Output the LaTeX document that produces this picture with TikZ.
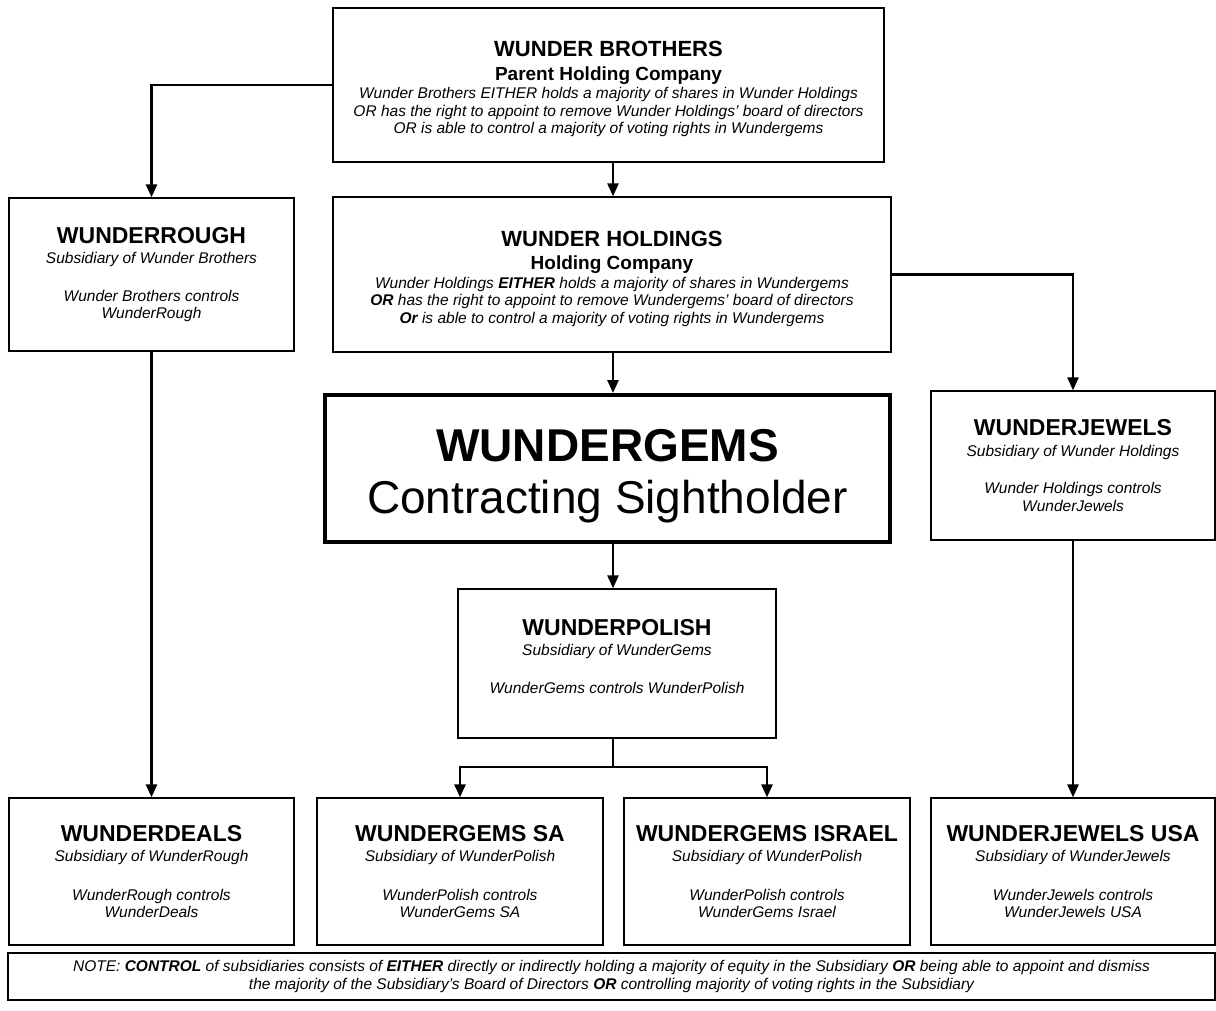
\documentclass[tikz,border=0pt]{standalone}
\usepackage{fontspec}
\setmainfont{Liberation Sans}
\usetikzlibrary{arrows.meta}

\newcommand{\ctitle}[1]{{\upshape\bfseries\fontsize{23}{26}\selectfont #1}}
\newcommand{\ptitle}[1]{{\upshape\bfseries\fontsize{22}{26}\selectfont\rule{0pt}{24pt}#1}}
\newcommand{\csub}[1]{{\upshape\bfseries\fontsize{19}{22}\selectfont #1}}

\tikzset{
  entity/.style={draw, line width=1.3pt, align=center, inner sep=0pt,
    font=\itshape\fontsize{15.5}{17.5}\selectfont},
  link/.style={line width=2.6pt, -{Triangle[length=13pt,width=11pt]}},
  bar/.style={line width=2.6pt},
}

\begin{document}
\begin{tikzpicture}[x=1pt,y=-1pt]
    \useasboundingbox (0,0) rectangle (1216,1010);

    % top of the chain
    \node[entity, minimum width=551pt, minimum height=154pt] (brothers) at (608.5,85)
        {\ptitle{WUNDER BROTHERS}\\[6pt] \csub{Parent Holding Company}\\[1pt]
         Wunder Brothers EITHER holds a majority of shares in Wunder Holdings\\
         OR has the right to appoint to remove Wunder Holdings' board of directors\\
         OR is able to control a majority of voting rights in Wundergems};
    \node[entity, minimum width=558pt, minimum height=155pt] (holdings) at (612,274.5)
        {\ptitle{WUNDER HOLDINGS}\\[6pt] \csub{Holding Company}\\[1pt]
         Wunder Holdings \textbf{EITHER} holds a majority of shares in Wundergems\\
         \textbf{OR} has the right to appoint to remove Wundergems' board of directors\\
         \textbf{Or} is able to control a majority of voting rights in Wundergems};
    \node[entity, minimum width=285pt, minimum height=153pt] (rough) at (151.5,274.5)
        {\ctitle{WUNDERROUGH}\\[3pt] Subsidiary of Wunder Brothers\\[20pt]
         Wunder Brothers controls\\ WunderRough};

    % contracting sightholder
    \node[entity, line width=4pt, minimum width=565pt, minimum height=147pt,
        font=\fontsize{46}{52}\selectfont] (gems) at (607.5,468.5)
        {\rule{0pt}{47pt}\textbf{WUNDERGEMS}\\ Contracting Sightholder};
    \node[entity, minimum width=284pt, minimum height=149pt] (jewels) at (1073,465.5)
        {\ctitle{WUNDERJEWELS}\\[3pt] Subsidiary of Wunder Holdings\\[20pt]
         Wunder Holdings controls\\ WunderJewels};
    \node[entity, minimum width=318pt, minimum height=149pt] (polish) at (617,663.5)
        {\ctitle{WUNDERPOLISH}\\[3pt] Subsidiary of WunderGems\\[20pt]
         WunderGems controls WunderPolish\rule[-15pt]{0pt}{15pt}};

    % bottom row
    \node[entity, minimum width=285pt, minimum height=147pt] (deals) at (151.5,871.5)
        {\ctitle{WUNDERDEALS}\\[3pt] Subsidiary of WunderRough\\[21pt]
         WunderRough controls\\ WunderDeals};
    \node[entity, minimum width=286pt, minimum height=147pt] (gemssa) at (460,871.5)
        {\ctitle{WUNDERGEMS SA}\\[3pt] Subsidiary of WunderPolish\\[21pt]
         WunderPolish controls\\ WunderGems SA};
    \node[entity, minimum width=286pt, minimum height=147pt] (israel) at (767,871.5)
        {\ctitle{WUNDERGEMS ISRAEL}\\[3pt] Subsidiary of WunderPolish\\[21pt]
         WunderPolish controls\\ WunderGems Israel};
    \node[entity, minimum width=284pt, minimum height=147pt] (jewelsusa) at (1073,871.5)
        {\ctitle{WUNDERJEWELS USA}\\[3pt] Subsidiary of WunderJewels\\[21pt]
         WunderJewels controls\\ WunderJewels USA};

    \node[entity, minimum width=1207pt, minimum height=47pt,
        font=\itshape\fontsize{15.5}{18}\selectfont] (note) at (611.5,976.5)
        {NOTE: \textbf{CONTROL} of subsidiaries consists of \textbf{EITHER} directly or indirectly holding a majority of equity in the Subsidiary \textbf{OR} being able to appoint and dismiss\\
         the majority of the Subsidiary's Board of Directors \textbf{OR} controlling majority of voting rights in the Subsidiary};

    % connectors
    \coordinate (spine) at (613,0);
    \coordinate (fork) at (613,767);
    \draw[link] (brothers.south -| spine) -- (holdings.north -| spine);
    \draw[link] (holdings.south -| spine) -- (gems.north -| spine);
    \draw[link] (gems.south -| spine) -- (polish.north -| spine);
    \draw[link] (brothers.west) -| (rough.north);
    \draw[link] (holdings.east) -| (jewels.north);
    \draw[link] (rough.south) -- (deals.north);
    \draw[link] (jewels.south) -- (jewelsusa.north);
    \draw[bar] (polish.south -| spine) -- (fork);
    \draw[link] (fork) -| (gemssa.north);
    \draw[link] (fork) -| (israel.north);
\end{tikzpicture}
\end{document}
